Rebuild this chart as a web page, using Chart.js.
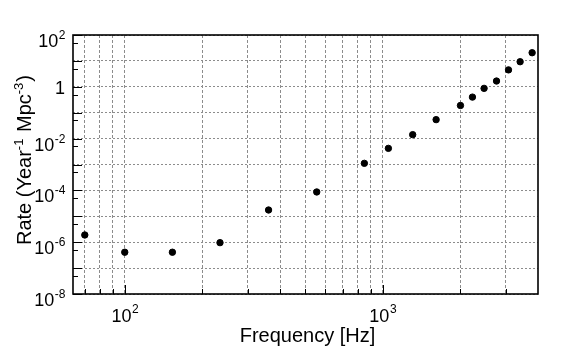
<!DOCTYPE html>
<html>
<head>
<meta charset="utf-8">
<script src="https://cdn.jsdelivr.net/npm/chart.js@4"></script>
<style>
  body { margin: 0; background: #fff; }
  #wrap { width: 567px; height: 354px; }
</style>
</head>
<body>
<div id="wrap"><canvas id="chartRate" width="567" height="354"></canvas></div>
<script>
// data
const freq = [70, 100, 153, 234, 361, 555, 849, 1052, 1307, 1611, 2002, 2228, 2472, 2762, 3074, 3410, 3796];
const rate = [1.9e-6, 4.1e-7, 4.1e-7, 9.6e-7, 1.75e-5, 8.7e-5, 1.11e-3, 4.2e-3, 1.42e-2, 5.4e-2, 0.19, 0.40, 0.87, 1.67, 4.5, 9.3, 20.7];

// axis ticks
const xGrid = [70, 80, 90, 100, 200, 300, 400, 500, 600, 700, 800, 900, 1000, 2000, 3000];
const xLabelExp = [2, 3];
const yGrid = [1e-8, 1e-7, 1e-6, 1e-5, 1e-4, 1e-3, 1e-2, 1e-1, 1, 10, 100];
const yMinor = [5e-8, 5e-7, 5e-6, 5e-5, 5e-4, 5e-3, 5e-2, 5e-1, 5, 50];
const yLabelExp = [2, 0, -2, -4, -6, -8];

const FONT = '"Liberation Sans", Arial, Helvetica, sans-serif';

function drawPow(ctx, exp, x, baseY, supY, align) {
    ctx.font = '18px ' + FONT;
    const wb = ctx.measureText('10').width;
    ctx.font = '12px ' + FONT;
    const we = ctx.measureText(String(exp)).width;
    let left = x;
    if (align === 'right') left = x - wb - we;
    if (align === 'center') left = x - (wb + we) / 2;
    ctx.textAlign = 'left';
    ctx.font = '18px ' + FONT;
    ctx.fillText('10', left, baseY);
    ctx.font = '12px ' + FONT;
    ctx.fillText(String(exp), left + wb + 0.5, supY);
}

const decor = {
    id: 'decor',
    afterDraw(chart) {
        const ctx = chart.ctx;
        const a = chart.chartArea;
        const xs = chart.scales.x, ys = chart.scales.y;
        ctx.save();
        ctx.fillStyle = '#000';
        ctx.strokeStyle = '#000';

        // ticks inside the frame
        ctx.lineWidth = 1;
        ctx.beginPath();
        yGrid.forEach(v => {
            const y = Math.round(ys.getPixelForValue(v)) + 0.5;
            ctx.moveTo(a.left, y); ctx.lineTo(a.left + 9, y);
        });
        yMinor.forEach(v => {
            const y = Math.round(ys.getPixelForValue(v)) + 0.5;
            ctx.moveTo(a.left, y); ctx.lineTo(a.left + 5, y);
        });
        xGrid.forEach(v => {
            const x = Math.round(xs.getPixelForValue(v)) + 0.5;
            const len = (v === 100 || v === 1000) ? 9 : 5;
            ctx.moveTo(x, a.bottom); ctx.lineTo(x, a.bottom - len);
        });
        ctx.stroke();

        // frame
        ctx.lineWidth = 1.6;
        ctx.strokeRect(a.left, a.top, a.right - a.left, a.bottom - a.top);

        // y tick labels
        yLabelExp.forEach(e => {
            const y = ys.getPixelForValue(Math.pow(10, e));
            if (e === 0) {
                ctx.font = '18px ' + FONT;
                ctx.textAlign = 'right';
                ctx.fillText('1', a.left - 8, y + 7);
            } else {
                drawPow(ctx, e, a.left - 8, y + 12, y + 4, 'right');
            }
        });

        // x tick labels
        xLabelExp.forEach(e => {
            const x = xs.getPixelForValue(Math.pow(10, e));
            drawPow(ctx, e, x, a.bottom + 28, a.bottom + 19, 'center');
        });

        // x title
        ctx.font = '20px ' + FONT;
        ctx.textAlign = 'center';
        ctx.fillText('Frequency [Hz]', (a.left + a.right) / 2 + 2, 342);

        // y title, rotated, with superscripts
        ctx.translate(31, 245);
        ctx.rotate(-Math.PI / 2);
        ctx.textAlign = 'left';
        const parts = [['Rate (Year', 0], ['-1', 1], [' Mpc', 0], ['-3', 1], [')', 0]];
        let px = 0;
        parts.forEach(([t, sup]) => {
            ctx.font = (sup ? '13px ' : '20px ') + FONT;
            ctx.fillText(t, px, sup ? -8 : 0);
            px += ctx.measureText(t).width + (sup ? 1 : 0);
        });
        ctx.restore();
    }
};

const gridOpts = { color: '#8c8c8c', lineWidth: 1, drawTicks: false };

new Chart(document.getElementById('chartRate').getContext('2d'), {
    type: 'scatter',
    data: {
        datasets: [{
            data: freq.map((f, i) => ({ x: f, y: rate[i] })),
            backgroundColor: '#000',
            borderColor: '#000',
            pointRadius: 3.2,
            pointHoverRadius: 3.2
        }]
    },
    options: {
        responsive: false,
        animation: false,
        layout: { padding: { left: 73, right: 29, top: 35, bottom: 60 } },
        plugins: { legend: { display: false }, tooltip: { enabled: false } },
        scales: {
            x: {
                type: 'logarithmic',
                min: 63,
                max: 4000,
                afterBuildTicks: s => { s.ticks = xGrid.map(v => ({ value: v })); },
                afterFit: s => { s.height = 0; },
                ticks: { display: false },
                grid: gridOpts,
                border: { display: false, dash: [3, 2] }
            },
            y: {
                type: 'logarithmic',
                min: 1e-8,
                max: 100,
                afterBuildTicks: s => { s.ticks = yGrid.map(v => ({ value: v })); },
                afterFit: s => { s.width = 0; },
                ticks: { display: false },
                grid: gridOpts,
                border: { display: false, dash: [2, 2] }
            }
        }
    },
    plugins: [decor]
});
</script>
</body>
</html>
